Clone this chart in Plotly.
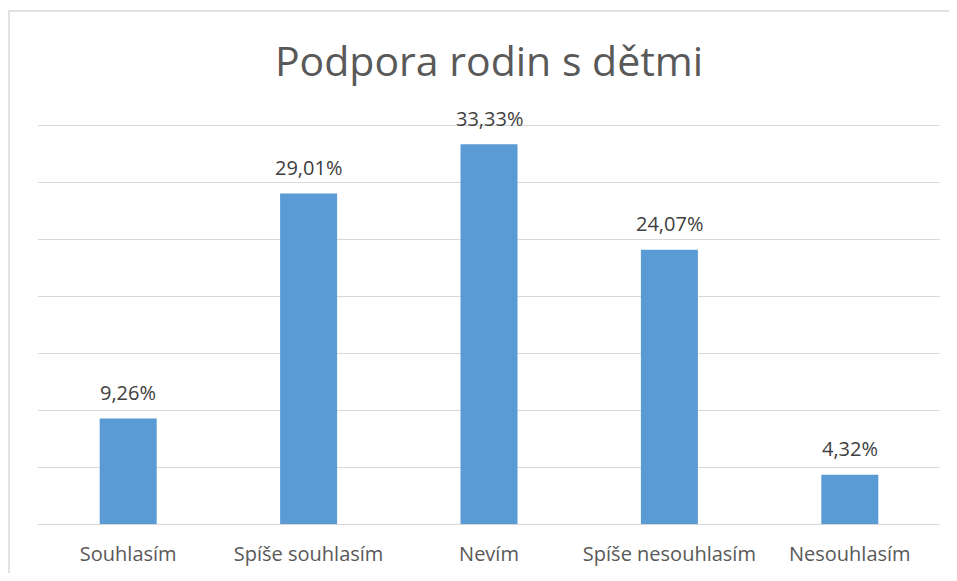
import plotly.graph_objects as go

categories = ["Souhlasím", "Spíše souhlasím", "Nevím", "Spíše nesouhlasím", "Nesouhlasím"]
values = [9.26, 29.01, 33.33, 24.07, 4.32]

# page adds an 8px body margin, so the figure is shrunk to fit the window
W, H = 941, 565
ml, mr, mt, mb = 30, 9, 115, 49
pw = W - ml - mr
ph = H - mt - mb

fig = go.Figure(go.Bar(
    x=categories, y=values,
    marker=dict(color="#5b9bd5", line=dict(width=0)),
))

# data labels, Czech decimal comma
for c, v in zip(categories, values):
    fig.add_annotation(x=c, y=v, text=f"{v:.2f}%".replace(".", ","),
                       showarrow=False, yanchor="middle", yshift=26,
                       font=dict(family="Open Sans", size=20, color="#404040"))

fig.update_layout(
    width=W, height=H,
    margin=dict(l=ml, r=mr, t=mt, b=mb),
    paper_bgcolor="white", plot_bgcolor="white",
    bargap=0.684,
    showlegend=False,
    title=dict(text="Podpora rodin s dětmi", x=(489 - 8) / W, xanchor="center",
               y=1 - 54 / H, yanchor="middle",
               font=dict(family="Open Sans", size=41, color="#595959")),
    font=dict(family="Open Sans"),
)
fig.update_xaxes(showline=False, ticks="", showgrid=False, ticklabelstandoff=16,
                 automargin=False,
                 tickfont=dict(size=20, color="#595959"))
fig.update_yaxes(range=[0, 35.2], tickvals=[5, 10, 15, 20, 25, 30, 35],
                 showticklabels=False, showgrid=True, automargin=False,
                 gridcolor="#d9d9d9", gridwidth=1, zeroline=True,
                 zerolinecolor="#d9d9d9", zerolinewidth=1)

# chart frame (cropped at right and bottom in the original)
fig.add_shape(type="rect", xref="paper", yref="paper", layer="below",
              x0=(1 - ml) / pw, x1=(W + 20 - ml) / pw,
              y0=-(mb + 20) / ph, y1=(H - mb - 3) / ph,
              line=dict(color="#d9d9d9", width=1.5), fillcolor="rgba(0,0,0,0)")

fig.write_html("out.html")
